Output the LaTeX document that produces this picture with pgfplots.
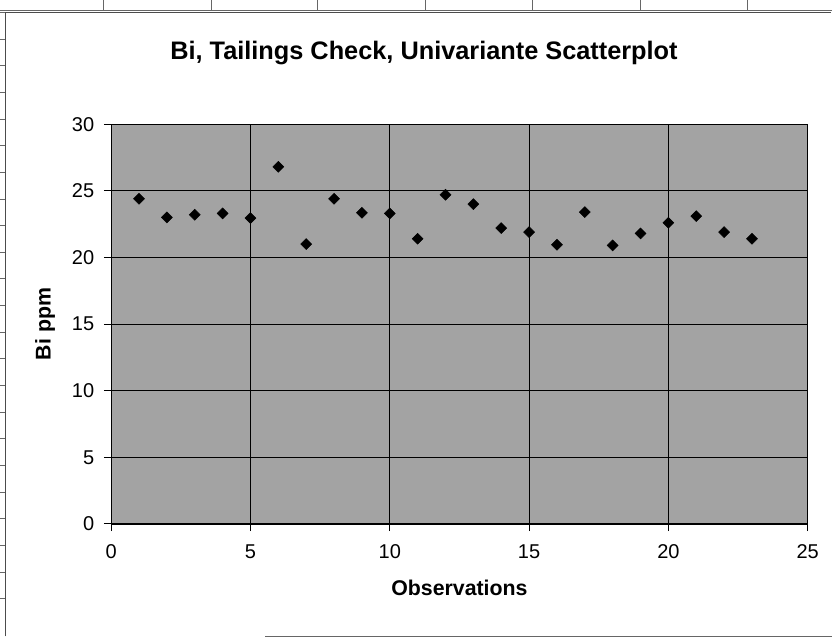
\documentclass[border=0pt]{standalone}
\usepackage{fontspec}
\setmainfont{Liberation Sans}
\usepackage{pgfplots}
\pgfplotsset{compat=1.18}
\usepackage{pgfplotstable}

% Bi assay per observation
\pgfplotstableread{
obs bi
1  24.4
2  23.0
3  23.2
4  23.3
5  22.95
6  26.8
7  21.0
8  24.4
9  23.35
10 23.3
11 21.4
12 24.7
13 24.0
14 22.2
15 21.9
16 20.95
17 23.4
18 20.9
19 21.8
20 22.6
21 23.1
22 21.9
23 21.4
}\bidata

\definecolor{plotbg}{gray}{0.64}

\begin{document}
\begin{tikzpicture}
  % sheet and chart area
  \fill[white] (0pt,0pt) rectangle (624pt,477.75pt);
  \draw[black!60, line width=0.4pt] (0pt,470.5pt) -- (624pt,470.5pt);
  \foreach \cx in {77.25,158.25,237.75,318.75,399,480,561}
    \draw[black!60, line width=0.4pt] (\cx pt,470.5pt) -- (\cx pt,477.75pt);
  \foreach \k in {0,...,22}
    \draw[black!60, line width=0.4pt] (0pt,{468.75pt-\k*20pt}) -- (3.75pt,{468.75pt-\k*20pt});
  \draw[black!70, line width=0.5pt] (3.75pt,0.3pt) -- (3.75pt,468.75pt) -- (623.6pt,468.75pt);
  \draw[black!60, line width=0.5pt] (199pt,0.6pt) -- (624pt,0.6pt);
  % title
  \node[anchor=base, font=\bfseries\fontsize{19}{22}\selectfont, inner sep=0pt]
    at (318pt,433.3pt) {Bi, Tailings Check, Univariante Scatterplot};
  \begin{axis}[
    at={(83.25pt,84.75pt)}, anchor=south west,
    scale only axis,
    width=522.75pt, height=300pt,
    xmin=0, xmax=25, ymin=0, ymax=30,
    xtick={0,5,...,25}, ytick={0,5,...,30},
    grid=major,
    major grid style={black, line width=0.5pt},
    axis line style={black, line width=0.8pt},
    axis background/.style={fill=plotbg},
    tick align=outside,
    tick pos=left,
    major tick length=5.5pt,
    tick style={black, line width=0.6pt},
    /pgf/number format/assume math mode=true,
    tick label style={font=\fontsize{15}{17}\selectfont},
    xticklabel style={yshift=-6.5pt},
    yticklabel style={xshift=-3.75pt},
    label style={font=\bfseries\fontsize{16}{18}\selectfont},
    xlabel={Observations},
    ylabel={Bi ppm},
    xlabel style={at={(axis description cs:0.5,-0.18)}, anchor=base},
    ylabel style={at={(axis description cs:-0.0947,0.5)}, anchor=center, rotate=0},
  ]
    \addplot[only marks, mark=square*, mark size=2.9pt,
             mark options={fill=black, draw=black, rotate=45}]
      table[x=obs, y=bi] {\bidata};
  \end{axis}
\end{tikzpicture}
\end{document}
